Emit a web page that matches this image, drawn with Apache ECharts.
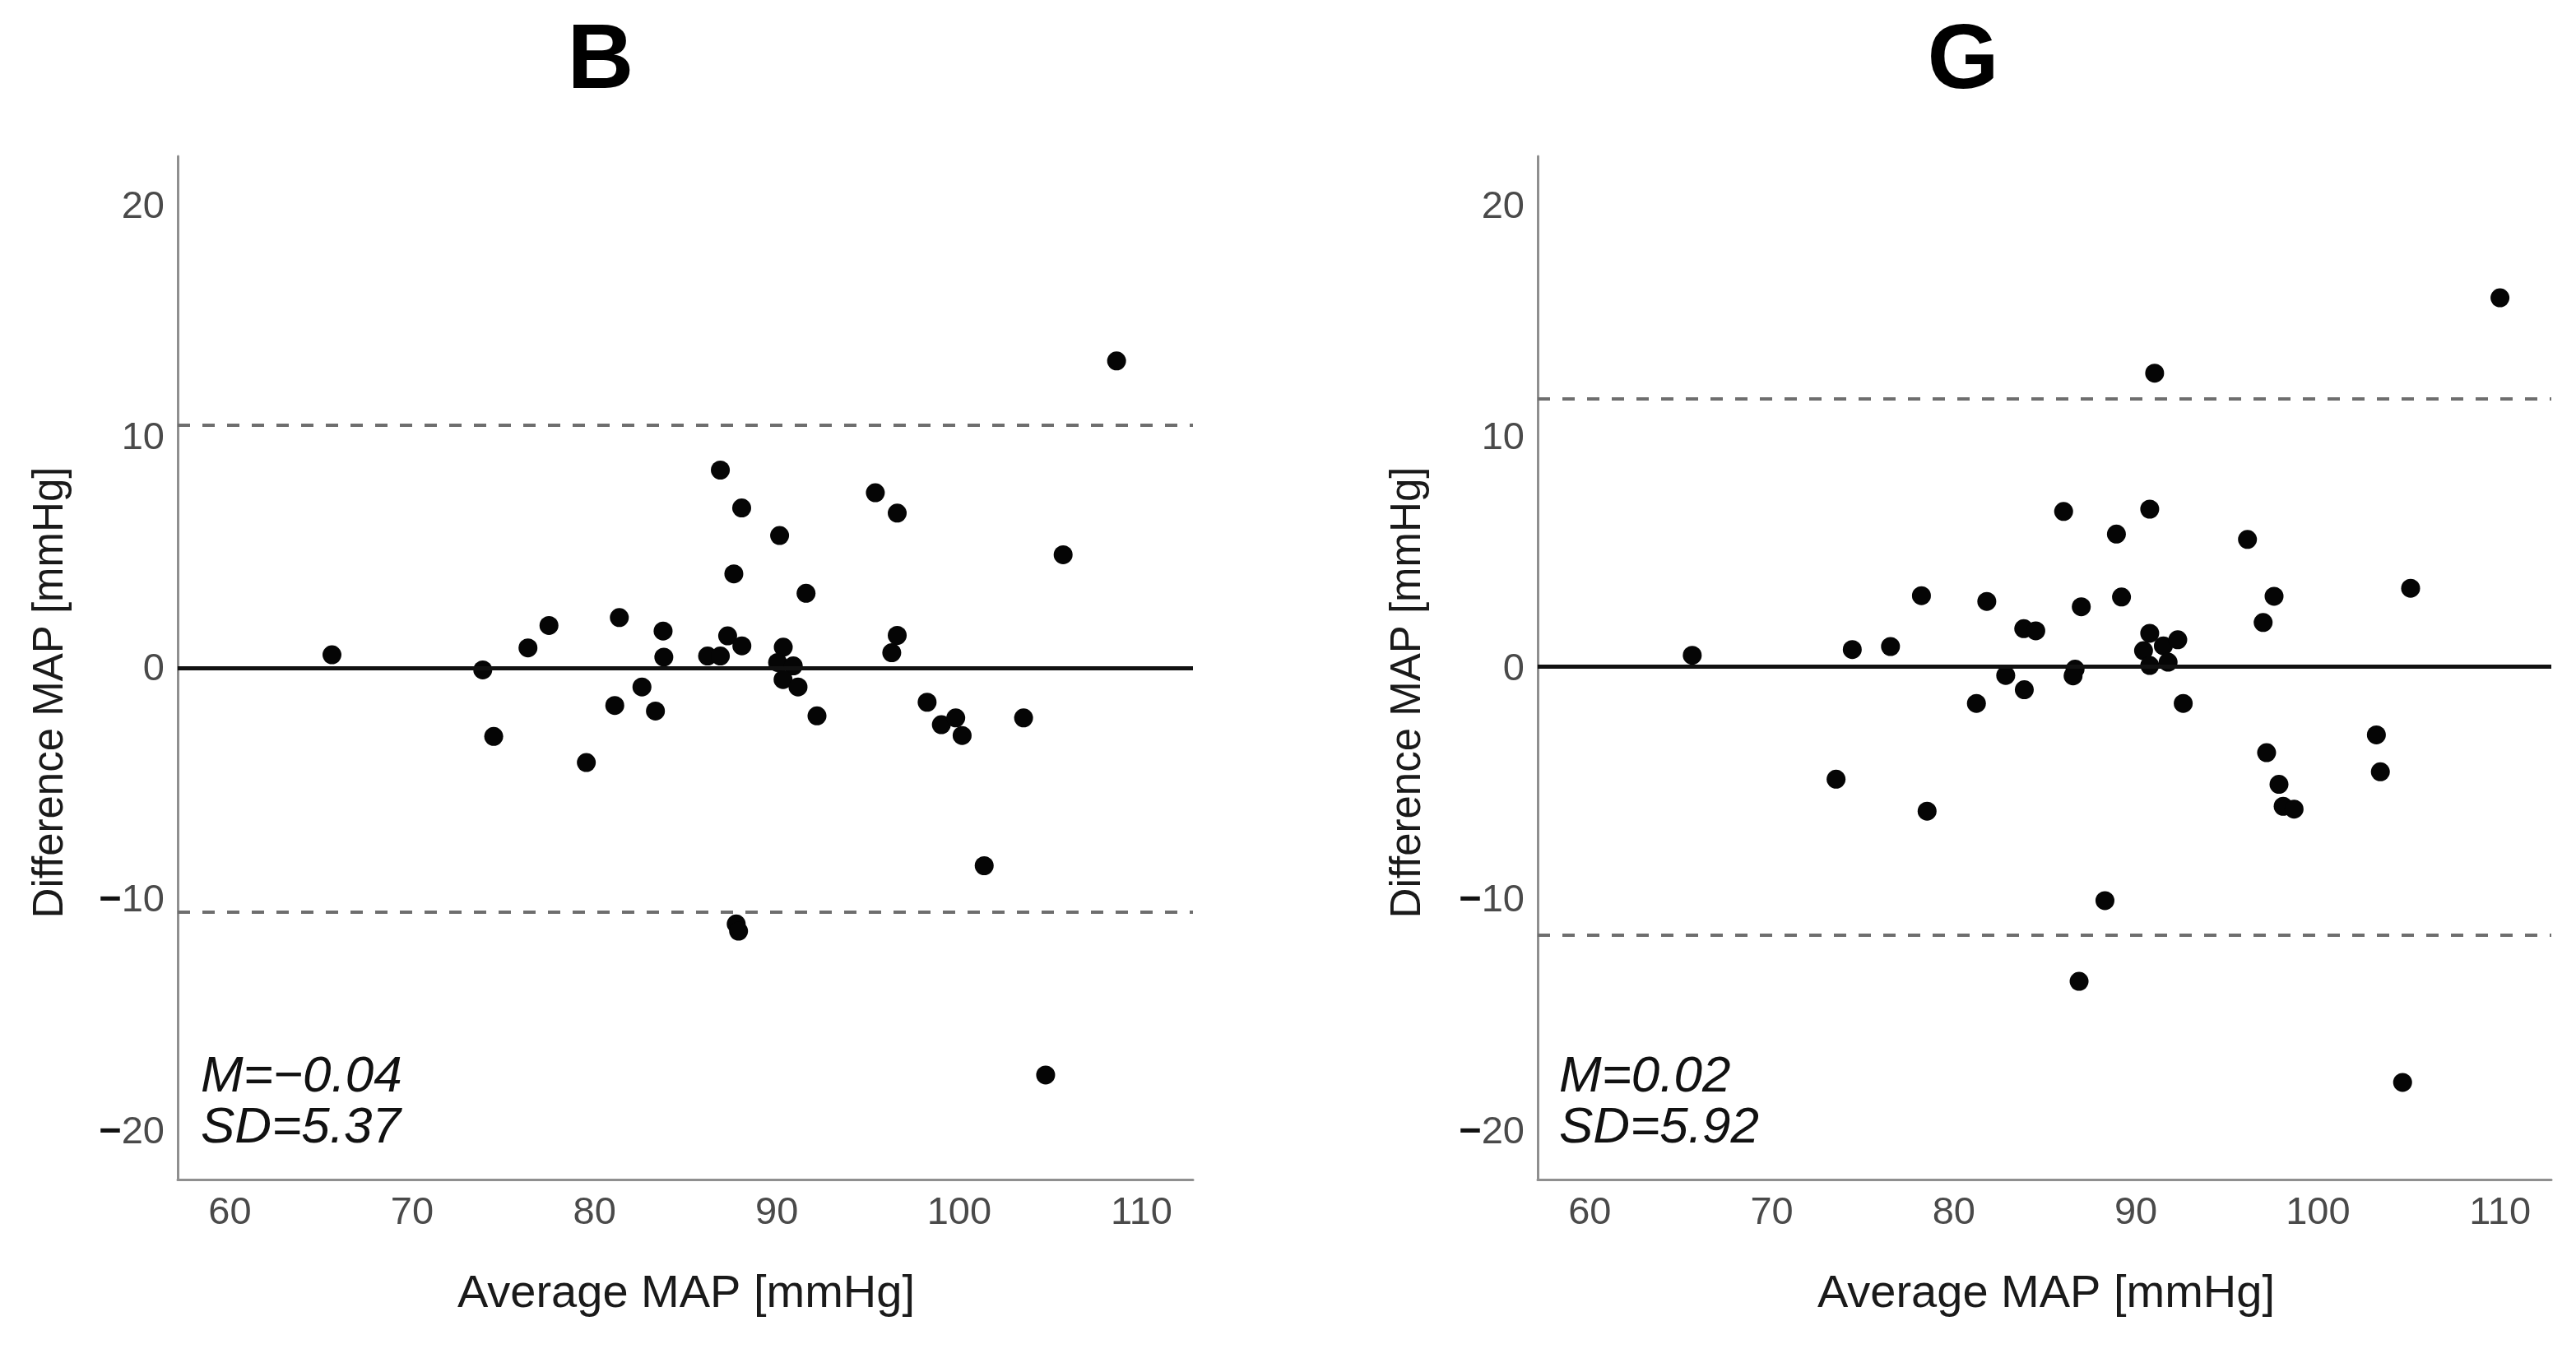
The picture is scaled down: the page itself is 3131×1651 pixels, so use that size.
<!DOCTYPE html>
<html><head><meta charset="utf-8">
<script src="https://cdn.jsdelivr.net/npm/echarts@6/dist/echarts.min.js"></script>
<style>html,body{margin:0;padding:0;background:#fff}#c{width:3131px;height:1651px}</style>
</head><body><div id="c"></div>
<script>
// ---- data ----
const panelTitles = ['B', 'G'];
const xTicks = [60, 70, 80, 90, 100, 110];
const yTicks = [-20, -10, 0, 10, 20];

const leftAvg = [65.6, 73.87, 74.47, 76.35, 77.5, 79.55, 81.36, 81.11, 82.6, 83.34, 83.76, 83.8, 86.2, 86.9, 87.3, 88.08, 86.9, 88.07, 87.64, 87.77, 87.9, 90.15, 90.35, 90.04, 90.9, 90.34, 91.16, 91.6, 92.2, 95.4, 96.6, 96.6, 96.3, 98.24, 99.02, 99.81, 100.16, 101.37, 103.53, 104.74, 105.7, 108.63];
const leftDiff = [0.54, -0.11, -2.99, 0.84, 1.81, -4.12, 2.15, -1.65, -0.85, -1.89, 1.57, 0.44, 0.49, 0.49, 1.36, 0.93, 8.53, 6.89, 4.04, -11.1, -11.41, 5.7, 0.87, 0.21, 0.06, -0.53, -0.85, 3.2, -2.1, 7.55, 6.67, 1.38, 0.63, -1.51, -2.48, -2.19, -2.95, -8.58, -2.19, -17.63, 4.87, 13.25];

const rightAvg = [65.63, 73.53, 74.42, 76.52, 78.22, 78.53, 81.24, 81.81, 82.85, 83.87, 83.84, 84.5, 86.03, 86.66, 86.55, 87.0, 86.88, 88.3, 88.93, 89.21, 90.76, 91.03, 90.76, 90.42, 91.51, 92.3, 90.76, 91.77, 92.6, 96.13, 97.59, 96.99, 97.18, 97.86, 98.09, 98.69, 103.21, 103.43, 104.65, 105.09, 110.0];
const rightDiff = [0.52, -4.84, 0.77, 0.9, 3.1, -6.22, -1.56, 2.85, -0.35, -0.97, 1.67, 1.58, 6.74, -0.08, -0.37, 2.62, -13.58, -10.09, 5.76, 3.04, 6.84, 12.72, 1.47, 0.72, 0.93, 1.19, 0.08, 0.22, -1.56, 5.53, 3.07, 1.94, -3.69, -5.06, -6.01, -6.13, -2.92, -4.52, -17.95, 3.42, 15.98];

// mean, upper limit, lower limit
const leftLines = [-0.04, 10.49, -10.57];
const rightLines = [0.02, 11.62, -11.58];
const leftStatText = ['M=\u22120.04', 'SD=5.37'];
const rightStatText = ['M=0.02', 'SD=5.92'];
const xTitle = 'Average MAP [mmHg]';
const yTitle = 'Difference MAP [mmHg]';

// ---- chart ----
const FONT = '"Liberation Sans", Arial, Helvetica, sans-serif';
const grids = [
  {left: 216, top: 190, width: 1234, height: 1244},
  {left: 1869, top: 190, width: 1232, height: 1244}
];

function xAxisCfg(i) {
  return {
    gridIndex: i, type: 'value', min: 57.14, max: 112.82,
    axisLine: {show: true, onZero: false, lineStyle: {color: '#8f8f8f', width: 3}},
    axisTick: {show: false}, splitLine: {show: false},
    axisLabel: {customValues: xTicks, margin: 18, fontSize: 47, color: '#4a4a4a', fontFamily: FONT}
  };
}
function yAxisCfg(i) {
  return {
    gridIndex: i, type: 'value', min: -22.15, max: 22.1,
    axisLine: {show: true, onZero: false, lineStyle: {color: '#8f8f8f', width: 3}},
    axisTick: {show: false}, splitLine: {show: false},
    axisLabel: {
      customValues: yTicks, margin: 16, fontSize: 47, color: '#4a4a4a', fontFamily: FONT,
      padding: [6, 0, 0, 0],
      formatter: v => v < 0 ? '{m|\u2212}{d|' + Math.abs(v) + '}' : '{d|' + v + '}',
      rich: {
        m: {fontSize: 47, color: '#111', fontWeight: 'bold', fontFamily: FONT},
        d: {fontSize: 47, color: '#4a4a4a', fontFamily: FONT}
      }
    }
  };
}
function linesSeries(i, vals) {
  return {
    type: 'scatter', xAxisIndex: i, yAxisIndex: i, data: [], z: 1, silent: true,
    markLine: {
      silent: true, symbol: 'none', animation: false, label: {show: false},
      data: [
        {yAxis: vals[0], lineStyle: {color: '#111', width: 5, type: 'solid'}},
        {yAxis: vals[1], lineStyle: {color: '#6e6e6e', width: 4, type: [15, 15]}},
        {yAxis: vals[2], lineStyle: {color: '#6e6e6e', width: 4, type: [15, 15]}}
      ]
    }
  };
}
function pointsSeries(i, xs, ys) {
  return {
    type: 'scatter', xAxisIndex: i, yAxisIndex: i, z: 3,
    symbol: 'circle', symbolSize: 23,
    itemStyle: {color: '#050505', opacity: 1},
    data: xs.map((x, k) => [x, ys[k]])
  };
}
function txt(x, y, text, style, extra) {
  return Object.assign({type: 'text', x: x, y: y, style: Object.assign({text: text, fontFamily: FONT, fill: '#111'}, style)}, extra || {});
}

const graphics = [
  txt(730, 76, panelTitles[0], {fontSize: 112, fontWeight: 'bold', fill: '#000', align: 'center', verticalAlign: 'middle'}),
  txt(2386, 76, panelTitles[1], {fontSize: 112, fontWeight: 'bold', fill: '#000', align: 'center', verticalAlign: 'middle'}),
  txt(834, 1574, xTitle, {fontSize: 56, align: 'center', verticalAlign: 'middle', fill: '#1a1a1a'}),
  txt(2487, 1574, xTitle, {fontSize: 56, align: 'center', verticalAlign: 'middle', fill: '#1a1a1a'}),
  txt(62, 842, yTitle, {fontSize: 51, align: 'center', verticalAlign: 'middle', fill: '#1a1a1a'}, {rotation: Math.PI / 2}),
  txt(1712, 842, yTitle, {fontSize: 51, align: 'center', verticalAlign: 'middle', fill: '#1a1a1a'}, {rotation: Math.PI / 2}),
  txt(244, 1310, leftStatText[0], {fontSize: 62, fontStyle: 'italic', align: 'left', verticalAlign: 'middle'}),
  txt(244, 1372, leftStatText[1], {fontSize: 62, fontStyle: 'italic', align: 'left', verticalAlign: 'middle'}),
  txt(1895, 1310, rightStatText[0], {fontSize: 62, fontStyle: 'italic', align: 'left', verticalAlign: 'middle'}),
  txt(1895, 1372, rightStatText[1], {fontSize: 62, fontStyle: 'italic', align: 'left', verticalAlign: 'middle'})
];

const chart = echarts.init(document.getElementById('c'), null, {renderer: 'canvas'});
chart.setOption({
  backgroundColor: '#fff',
  animation: false,
  grid: grids,
  xAxis: [xAxisCfg(0), xAxisCfg(1)],
  yAxis: [yAxisCfg(0), yAxisCfg(1)],
  series: [
    linesSeries(0, leftLines), linesSeries(1, rightLines),
    pointsSeries(0, leftAvg, leftDiff), pointsSeries(1, rightAvg, rightDiff)
  ],
  graphic: graphics
});
</script></body></html>
